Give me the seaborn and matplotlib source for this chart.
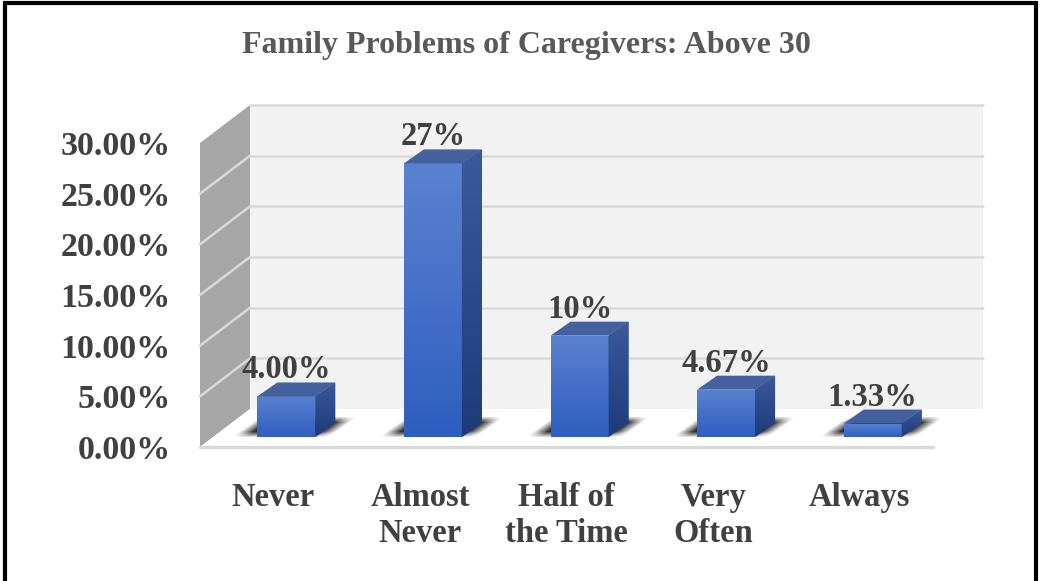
import numpy as np
import pandas as pd
import seaborn as sns
import matplotlib.pyplot as plt
from matplotlib.patches import Polygon, Rectangle
from matplotlib.colors import LinearSegmentedColormap

# data
categories = ["Never", "Almost\nNever", "Half of\nthe Time", "Very\nOften", "Always"]
values = [4.00, 27, 10, 4.67, 1.33]
value_labels = ["4.00%", "27%", "10%", "4.67%", "1.33%"]
yticks = [0, 5, 10, 15, 20, 25, 30]
title = "Family Problems of Caregivers: Above 30"

sns.set_style("white")
plt.rcParams['font.family'] = ['Liberation Serif', 'DejaVu Serif']
plt.rcParams['font.weight'] = 'bold'

W, H = 1041, 581
fig = plt.figure(figsize=(W / 100, H / 100), dpi=100)
ax = fig.add_axes([200 / W, (H - 447) / H, 733 / W, 304 / H])
ax.set_facecolor('none')

# pixel -> data unit helpers (axes is fixed)
ppx = 733 / 5.0
ppy = 304 / 30.0


def px(dx, dy):
    return dx / ppx, dy / ppy


wall_dx, wall_dy = px(50, 38)    # depth of the walls
bar_ox, bar_oy = px(13, 10)      # bars sit a bit behind the front edge
bar_dx, bar_dy = px(20, 14)      # depth of a bar

# back wall
ax.add_patch(Rectangle((-0.5 + wall_dx, wall_dy), 5, 30, facecolor='#f2f2f2',
                       edgecolor='none', clip_on=False, zorder=0))
for t in yticks[1:]:
    ax.plot([-0.5 + wall_dx, 4.5 + wall_dx], [t + wall_dy] * 2, color='#d9d9d9',
            lw=1.8, clip_on=False, zorder=1)
# side wall
ax.add_patch(Polygon([(-0.5, 0), (-0.5, 30), (-0.5 + wall_dx, 30 + wall_dy),
                      (-0.5 + wall_dx, wall_dy)], facecolor='#a6a6a6',
                     edgecolor='none', clip_on=False, zorder=0))
for t in yticks[1:-1]:
    ax.plot([-0.5, -0.5 + wall_dx], [t, t + wall_dy], color='#d9d9d9', lw=1.8,
            clip_on=False, zorder=1)
# floor
ax.add_patch(Polygon([(-0.5, 0), (4.5, 0), (4.5 + wall_dx, wall_dy),
                      (-0.5 + wall_dx, wall_dy)], facecolor='white',
                     edgecolor='none', clip_on=False, zorder=1))
ax.plot([-0.5, 4.5], [0, 0], color='#d9d9d9', lw=2.5, clip_on=False, zorder=1)

# bars
df = pd.DataFrame({"Response": categories, "Percent": values})
sns.barplot(data=df, x="Response", y="Percent", color="#4472c4",
            width=58 / ppx, ax=ax, zorder=3)

front_cmap = LinearSegmentedColormap.from_list("front", ["#2e5ec0", "#5b82d0"])
side_cmap = LinearSegmentedColormap.from_list("side", ["#1e3a78", "#3a5a9e"])
grad = np.linspace(0, 1, 100).reshape(-1, 1)

for p, lab in zip(list(ax.containers[0]), value_labels):
    x0 = p.get_x() + bar_ox
    y0 = bar_oy
    w = p.get_width()
    h = p.get_height()
    p.set_x(x0)
    p.set_y(y0)
    p.set_edgecolor('none')

    # soft shadow on the floor (built in pixel space, shown in data space)
    wpx = w * ppx
    X, Y = np.meshgrid(np.arange(-32, wpx + 50), np.arange(-2, 22))
    u = X - Y * (20 / 14)
    a_x = np.clip(np.minimum(u + 25, wpx + 14 - u) / 15, 0, 1)
    a_y = np.clip(np.minimum(Y + 1, 20 - Y) / 6, 0, 1)
    rgba = np.zeros(X.shape + (4,))
    rgba[..., :3] = 0.13
    rgba[..., 3] = 0.95 * a_x * a_y
    ax.imshow(rgba, extent=(x0 - 32 / ppx, x0 + (wpx + 50) / ppx,
                            y0 - 2 / ppy, y0 + 22 / ppy),
              origin='lower', aspect='auto', interpolation='bilinear',
              zorder=2, clip_on=False)

    im = ax.imshow(grad, extent=(x0, x0 + w, y0, y0 + h), origin='lower',
                   cmap=front_cmap, aspect='auto', zorder=4)
    im.set_clip_path(p)

    side = Polygon([(x0 + w, y0), (x0 + w, y0 + h), (x0 + w + bar_dx, y0 + h + bar_dy),
                    (x0 + w + bar_dx, y0 + bar_dy)], facecolor='#2a4a8c',
                   edgecolor='none', zorder=4)
    ax.add_patch(side)
    im2 = ax.imshow(grad, extent=(x0 + w, x0 + w + bar_dx, y0, y0 + h + bar_dy),
                    origin='lower', cmap=side_cmap, aspect='auto', zorder=4)
    im2.set_clip_path(side)

    ax.add_patch(Polygon([(x0, y0 + h), (x0 + w, y0 + h),
                          (x0 + w + bar_dx, y0 + h + bar_dy),
                          (x0 + bar_dx, y0 + h + bar_dy)], facecolor='#44619e',
                         edgecolor='none', zorder=4))

    ax.text(x0 + w / 2, y0 + h + bar_dy + 4 / ppy, lab, ha='center', va='baseline',
            fontsize=23.5, color='#404040', fontweight='bold', zorder=6)

ax.set_xlim(-0.5, 4.5)
ax.set_ylim(0, 30)
ax.set_xlabel('')
ax.set_ylabel('')
ax.set_yticks(yticks)
ax.set_yticklabels([f"{t:.2f}%" for t in yticks])
ax.set_xticks(range(len(categories)))
ax.set_xticklabels(categories)
ax.tick_params(axis='y', length=0, pad=21, labelsize=24.5, labelcolor='#404040')
ax.tick_params(axis='x', length=0, pad=25, labelsize=23.5, labelcolor='#404040')
for s in ax.spines.values():
    s.set_visible(False)

fig.text(526 / W, 1 - 46 / H, title, ha='center', va='center', fontsize=23,
         color='#595959', fontweight='bold')

fig.add_artist(Rectangle((5 / W, -0.1), 1031 / W, 1 - 3 / H + 0.1, fill=False,
                         edgecolor='black', lw=3, transform=fig.transFigure,
                         clip_on=False))

fig.savefig('out.png', dpi=100)
